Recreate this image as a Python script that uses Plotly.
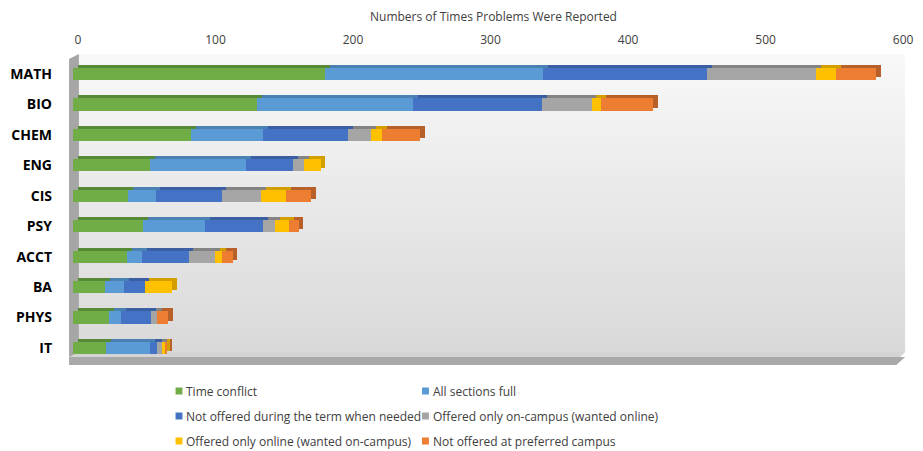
import plotly.graph_objects as go

W, H = 923, 451

categories = ["MATH", "BIO", "CHEM", "ENG", "CIS", "PSY", "ACCT", "BA", "PHYS", "IT"]
series_names = [
    "Time conflict",
    "All sections full",
    "Not offered during the term when needed",
    "Offered only on-campus (wanted online)",
    "Offered only online (wanted on-campus)",
    "Not offered at preferred campus",
]
time_conflict = [183, 134, 86, 56, 40, 51, 39, 23, 26, 24]
all_sections_full = [159, 113, 52, 70, 20, 45, 11, 14, 9, 32]
not_offered_term = [119, 94, 62, 34, 48, 42, 34, 15, 22, 5]
only_on_campus = [79, 36, 17, 8, 29, 9, 19, 0, 4, 4]
only_online = [15, 7, 8, 12, 18, 10, 5, 20, 0, 2]
not_pref_campus = [29, 38, 27, 0, 18, 7, 8, 0, 8, 1]
series_values = [time_conflict, all_sections_full, not_offered_term,
                 only_on_campus, only_online, not_pref_campus]
tick_values = [0, 100, 200, 300, 400, 500, 600]
axis_title = "Numbers of Times Problems Were Reported"

front_colors = ["#70ad47", "#5b9bd5", "#4472c4", "#a5a5a5", "#ffc000", "#ed7d31"]
back_colors = ["#578a36", "#4a80b2", "#3a5fa3", "#838383", "#d39e00", "#b8602a"]


def px(x):
    return x / W


def py(y):
    return 1 - y / H


fig = go.Figure()

# back (depth) faces on xaxis/yaxis
for name, vals, col in zip(series_names, series_values, back_colors):
    fig.add_trace(go.Bar(y=categories, x=vals, orientation="h", name=name,
                         marker=dict(color=col, line=dict(width=0)),
                         width=0.4, showlegend=False, hoverinfo="skip",
                         xaxis="x", yaxis="y"))
# front faces on xaxis2/yaxis2
for name, vals, col in zip(series_names, series_values, front_colors):
    fig.add_trace(go.Bar(y=categories, x=vals, orientation="h", name=name,
                         marker=dict(color=col, line=dict(width=0)),
                         width=0.4, showlegend=False,
                         xaxis="x2", yaxis="y2"))

shapes = []
# back wall stepped gradient
top, bot = 54, 352
n = 40
c0, c1 = (248, 248, 248), (217, 217, 217)
for i in range(n):
    y0 = top + (bot - top) * i / n
    y1 = top + (bot - top) * (i + 1) / n + 0.5
    t = (i + 0.5) / n
    c = tuple(round(a + (b - a) * t) for a, b in zip(c0, c1))
    shapes.append(dict(type="rect", xref="paper", yref="paper", layer="below",
                       x0=px(77), x1=px(915), y0=py(y1), y1=py(y0),
                       fillcolor="rgb(%d,%d,%d)" % c, line=dict(width=0)))
# left wall
shapes.append(dict(type="path", xref="paper", yref="paper", layer="below",
                   path="M %f %f L %f %f L %f %f L %f %f Z" % (
                       px(67), py(59), px(77), py(54), px(77), py(352), px(67), py(362)),
                   fillcolor="#a6a6a6", line=dict(width=0)))
# floor top
shapes.append(dict(type="path", xref="paper", yref="paper", layer="below",
                   path="M %f %f L %f %f L %f %f L %f %f Z" % (
                       px(77), py(352), px(915), py(352), px(910), py(357), px(67), py(357)),
                   fillcolor="#d4d4d4", line=dict(width=0)))
# floor front
shapes.append(dict(type="path", xref="paper", yref="paper", layer="below",
                   path="M %f %f L %f %f L %f %f L %f %f Z" % (
                       px(67), py(357), px(915), py(357), px(906), py(365), px(67), py(365)),
                   fillcolor="#a9a9a9", line=dict(width=0)))

annotations = []
for i, (name, col) in enumerate(zip(series_names, front_colors)):
    cx = 175 + (i % 2) * 250
    cy = 391 + (i // 2) * 25
    shapes.append(dict(type="rect", xref="paper", yref="paper",
                       x0=px(cx), x1=px(cx + 7), y0=py(cy + 3.5), y1=py(cy - 3.5),
                       fillcolor=col, line=dict(width=0)))
    annotations.append(dict(text=name, xref="paper", yref="paper",
                            x=px(cx + 9), y=py(cy), xanchor="left", yanchor="middle",
                            showarrow=False,
                            font=dict(family="Open Sans", size=12, color="#404040")))

annotations.append(dict(text=axis_title, xref="paper", yref="paper",
                        x=px(497), y=py(16), xanchor="center", yanchor="middle",
                        showarrow=False,
                        font=dict(family="Open Sans", size=12, color="#404040")))

fig.update_layout(
    width=W, height=H,
    margin=dict(l=0, r=0, t=0, b=0),
    paper_bgcolor="white",
    plot_bgcolor="rgba(0,0,0,0)",
    barmode="stack",
    showlegend=False,
    shapes=shapes,
    annotations=annotations,
    xaxis=dict(domain=[px(76), px(913)], range=[0, 600], side="top",
               tickvals=tick_values, showgrid=False, zeroline=False,
               showline=False, ticks="", ticklabelstandoff=8,
               ticklabeloverflow="allow",
               tickfont=dict(family="Open Sans", size=12, color="#404040"),
               anchor="y", fixedrange=True),
    yaxis=dict(domain=[py(360.2), py(55.8)], type="category",
               categoryorder="array", categoryarray=categories,
               range=[9.5, -0.5], showticklabels=False, showgrid=False,
               zeroline=False, showline=False, anchor="x", fixedrange=True),
    xaxis2=dict(domain=[px(71), px(908)], range=[0, 600], showticklabels=False,
                showgrid=False, zeroline=False, showline=False, anchor="y2",
                fixedrange=True),
    yaxis2=dict(domain=[py(363.2), py(58.8)], type="category",
                categoryorder="array", categoryarray=categories,
                range=[9.5, -0.5], showgrid=False, zeroline=False, showline=False,
                ticks="", ticklabelstandoff=20,
                tickfont=dict(family="Open Sans", size=14, color="#000000",
                              weight="bold"),
                anchor="x2", fixedrange=True),
)

fig.write_html("out.html")
